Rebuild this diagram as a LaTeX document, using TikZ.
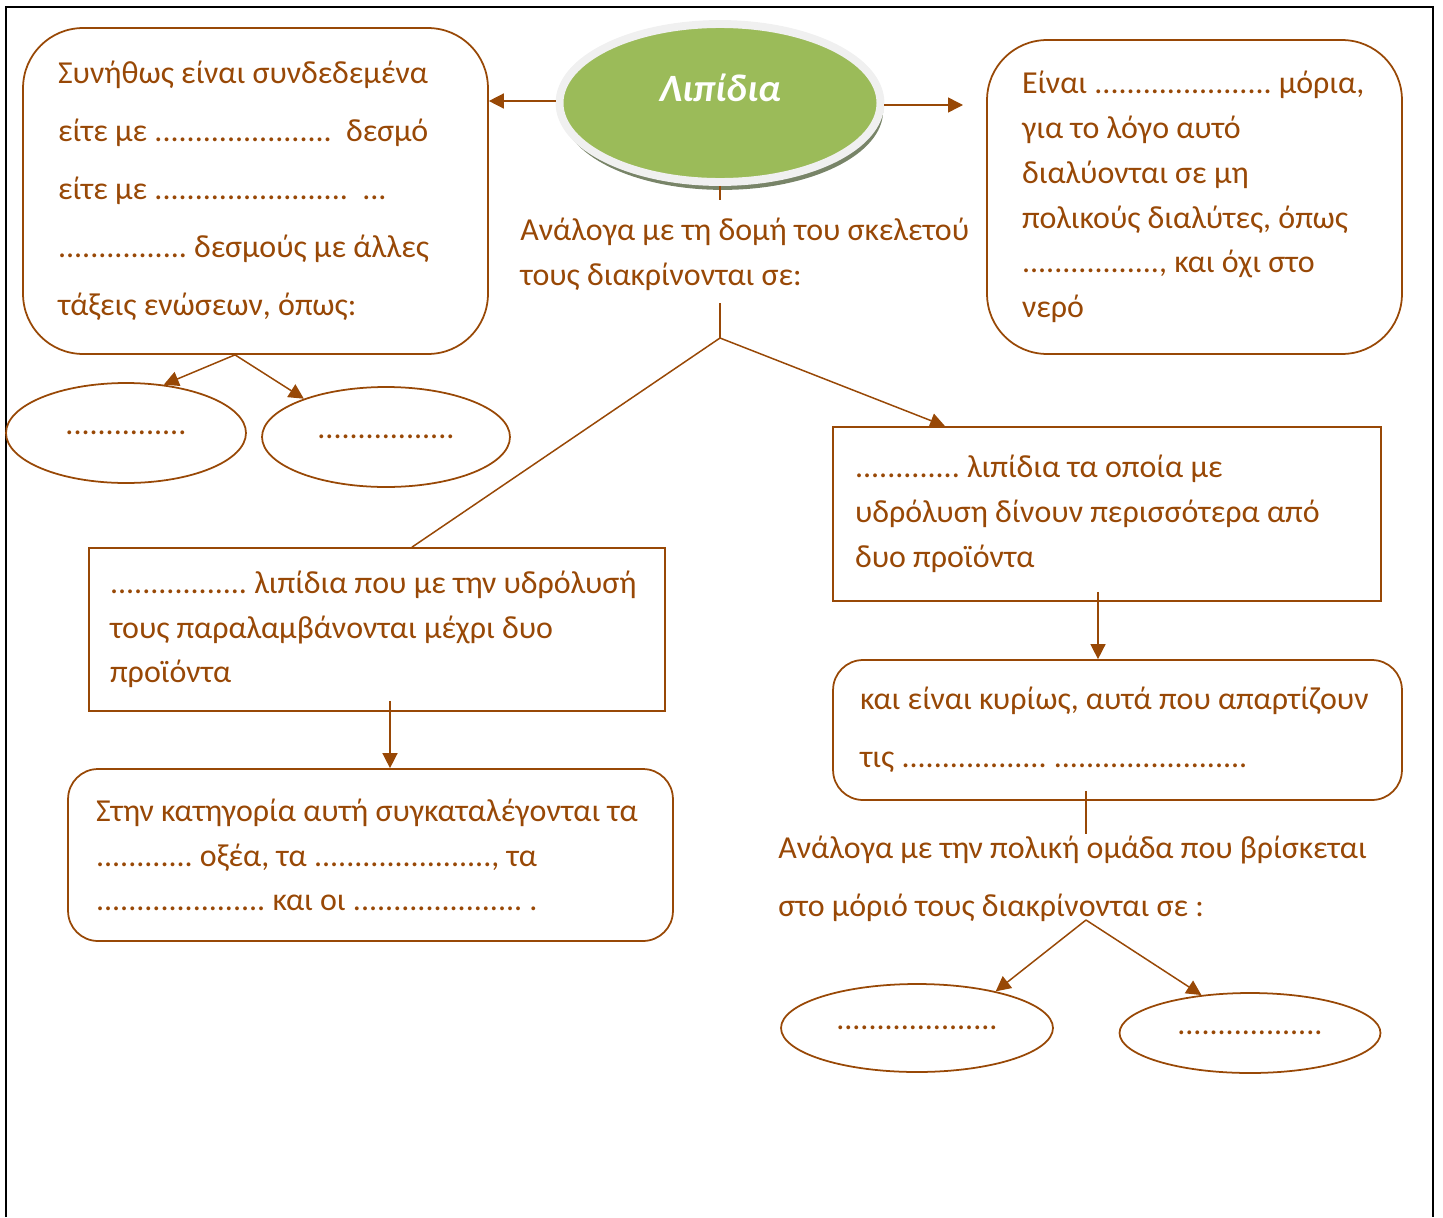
\documentclass[tikz,border=0pt]{standalone}
\usepackage{fontspec}
\setmainfont{Carlito}
\usetikzlibrary{arrows.meta,shapes.geometric,shadows}
\frenchspacing

\definecolor{lipidbrown}{RGB}{152,72,6}
\definecolor{lipidgreen}{RGB}{155,187,89}
\definecolor{rimgrey}{RGB}{240,240,240}
\definecolor{rimshade}{RGB}{120,132,104}

\begin{document}
\begin{tikzpicture}
        [
            x = 0.02cm, y = -0.02cm,
            every node/.style = {font=\fontsize{18.2}{25.5}\selectfont, text=lipidbrown},
            roundbox/.style   = {shape=rectangle, draw=lipidbrown, line width=1pt, rounded corners=1.2cm, align=flush left},
            squarebox/.style  = {shape=rectangle, draw=lipidbrown, line width=1pt, align=flush left},
            blankoval/.style  = {shape=ellipse, draw=lipidbrown, line width=1pt, inner sep=0pt},
            note/.style       = {align=flush left, inner sep=0pt, anchor=west},
            link/.style       = {draw=lipidbrown, line width=0.85pt, -{Triangle[length=8.5pt,width=8.5pt]}},
            stem/.style       = {draw=lipidbrown, line width=0.85pt},
            frame/.style      = {draw=black, line width=1.1pt},
            widelines/.style  = {font=\fontsize{18.2}{33}\selectfont},
        ]
        \useasboundingbox (0,0) rectangle (1443,1217);
        \draw [frame] (6,1217) -- (6,7) -- (1433,7) -- (1433,1217);

        % central title
        \node [shape=ellipse, fill=lipidgreen, draw=rimgrey, line width=4.5pt,
               minimum width=6.42cm, minimum height=3.16cm,
               drop shadow={shadow xshift=1.5pt, shadow yshift=-4.5pt, fill=rimshade, opacity=1},
               label={[text=white, font=\fontsize{22}{26}\selectfont\bfseries\itshape, yshift=0.3cm]center:Λιπίδια}]
            (title) at (720,103) {};

        % boxes
        \node [roundbox, widelines, minimum width=9.3cm, minimum height=6.52cm, text width=7.9cm] (synd) at (255.5,191)
            {Συνήθως είναι συνδεδεμένα\\είτε με ...................... \ δεσμό\\είτε με ........................ \ ...\\................ δεσμούς με άλλες\\τάξεις ενώσεων, όπως:};
        \node [roundbox, minimum width=8.3cm, minimum height=6.28cm, text width=6.9cm] (einai) at (1194.5,197)
            {Είναι ...................... μόρια,\\για το λόγο αυτό\\διαλύονται σε μη\\πολικούς διαλύτες, όπως\\................., και όχι στο\\νερό};
        \node [squarebox, minimum width=10.96cm, minimum height=3.48cm, text width=10.08cm] (poly) at (1107,514)
            {............. λιπίδια τα οποία με\\υδρόλυση δίνουν περισσότερα από\\δυο προϊόντα};
        \node [roundbox, widelines, rounded corners=0.6cm, minimum width=11.38cm, minimum height=2.8cm, text width=10.3cm] (kyrios) at (1117.5,730)
            {και είναι κυρίως, αυτά που απαρτίζουν\\τις .................. ........................};
        \node [squarebox, minimum width=11.52cm, minimum height=3.26cm, text width=10.68cm] (mono) at (377,629.5)
            {................. λιπίδια που με την υδρόλυσή\\τους παραλαμβάνονται μέχρι δυο\\προϊόντα};
        \node [roundbox, rounded corners=0.6cm, minimum width=12.1cm, minimum height=3.44cm, text width=10.98cm] (stin) at (370.5,855)
            {Στην κατηγορία αυτή συγκαταλέγονται τα\\............ οξέα, τα ......................, τα\\..................... και οι ..................... .};

        % free texts
        \node [note] (skel) at (520,254) {Ανάλογα με τη δομή του σκελετού\\τους διακρίνονται σε:};
        \node [note, widelines] (polar) at (778,879) {Ανάλογα με την πολική ομάδα που βρίσκεται\\στο μόριό τους διακρίνονται σε :};

        % blank ovals
        \node [blankoval, minimum width=4.8cm, minimum height=2cm] (bond1) at (126,433) {...............};
        \node [blankoval, minimum width=4.96cm, minimum height=2cm] (bond2) at (386,437) {.................};
        \node [blankoval, minimum width=5.44cm, minimum height=1.76cm] (group1) at (917,1028) {....................};
        \node [blankoval, minimum width=5.22cm, minimum height=1.6cm] (group2) at (1250,1033) {..................};

        % connectors
        \coordinate (split1) at (720,338);
        \coordinate (split2) at ([xshift=-0.41cm]synd.south);
        \coordinate (split3) at (1086,920);
        \coordinate (tipR) at (963,105);

        \draw [link] ([yshift=0.04cm]title.west) -- ([yshift=0.04cm]title.west -| synd.east);
        \draw [link] (title.east |- tipR) -- (tipR);
        \draw [stem] (title.south) -- ++(0,14);
        \draw [stem] (split1) -- ++(0,-35);
        \draw [stem] (split1) -- ([xshift=0.7cm]mono.north);
        \draw [link] (split1) -- ([xshift=-3.24cm]poly.north);
        \draw [link] (split2) -- (bond1.52);
        \draw [link] (split2) -- (bond2.155);
        \draw [link] ([xshift=-0.18cm,yshift=0.2cm]poly.south) -- ([xshift=-0.18cm]poly.south |- kyrios.north);
        \draw [link] ([xshift=0.26cm,yshift=0.22cm]mono.south) -- ([xshift=0.26cm]mono.south |- stin.north);
        \draw [stem] ([xshift=-0.63cm,yshift=0.2cm]kyrios.south) -- ++(0,43);
        \draw [link] (split3) -- (group1.25);
        \draw [link] (split3) -- (group2.142);
    \end{tikzpicture}
\end{document}
